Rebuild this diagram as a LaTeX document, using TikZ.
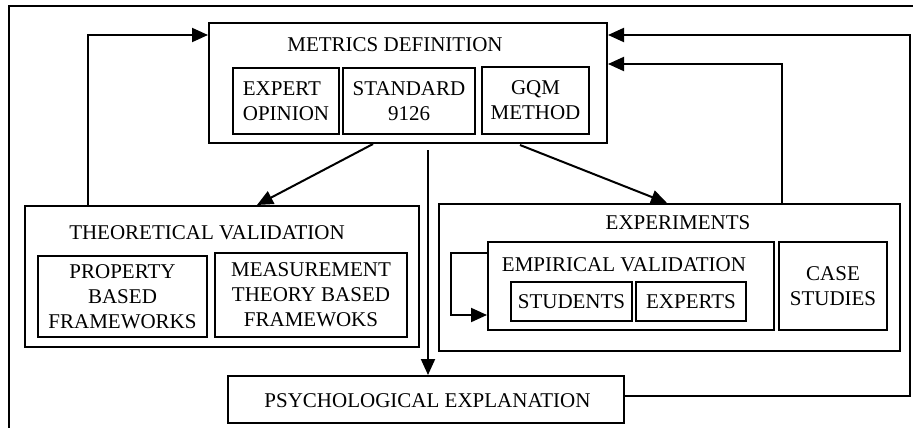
\documentclass[tikz,border=0pt]{standalone}
\usepackage{fontspec}
\setmainfont{Liberation Serif}
\usetikzlibrary{arrows.meta,calc}
\begin{document}
\begin{tikzpicture}[x=1pt,y=-1pt,
  every node/.style={font=\fontsize{21}{25}\selectfont},
  box/.style={draw,line width=2pt,rectangle,inner sep=0pt,align=center},
  title/.style={inner sep=0pt,anchor=center},
  arr/.style={line width=2pt,-{Triangle[length=16pt,width=14pt]}},
  ln/.style={line width=2pt}]
\useasboundingbox (0,0) rectangle (913,428);
% outer frame (cropped at right and bottom)
\coordinate (ofa) at (913,6);
\coordinate (ofb) at (9,6);
\coordinate (ofc) at (9,428);
\draw[ln] (ofa) -- (ofb) -- (ofc);
% metrics definition
\node[box,minimum width=398pt,minimum height=120pt] (md) at (408,83) {};
\node[title] (mdt) at (395,45) {METRICS DEFINITION};
\node[box,minimum width=106pt,minimum height=66pt,align=left] (eo) at (286,101) {EXPERT\\OPINION};
\node[box,minimum width=132pt,minimum height=66pt] (std) at (409,101) {STANDARD\\9126};
\node[box,minimum width=107pt,minimum height=67pt] (gqm) at (535.5,100.5) {GQM\\METHOD};
% theoretical validation
\node[box,minimum width=394pt,minimum height=141pt] (tv) at (222,276.5) {};
\node[title] (tvt) at (207,233) {THEORETICAL VALIDATION};
\node[box,minimum width=169pt,minimum height=81pt] (prop) at (122.5,296.5) {PROPERTY\\BASED\\FRAMEWORKS};
\node[box,minimum width=192pt,minimum height=84pt] (meas) at (311,295) {MEASUREMENT\\THEORY BASED\\FRAMEWOKS};
% experiments
\node[box,minimum width=461pt,minimum height=147pt] (exp) at (669.5,277.5) {};
\node[title] (expt) at (678,223) {EXPERIMENTS};
\node[box,minimum width=286pt,minimum height=88pt] (emp) at (631,286) {};
\node[title] (empt) at (624,265) {EMPIRICAL VALIDATION};
\node[box,minimum width=121pt,minimum height=39pt] (stu) at (571.5,301.5) {STUDENTS};
\node[box,minimum width=110pt,minimum height=39pt] (xps) at (691,301.5) {EXPERTS};
\node[box,minimum width=108pt,minimum height=88pt] (case) at (833,286) {CASE\\STUDIES};
% psychological explanation
\node[box,minimum width=396pt,minimum height=47pt] (psy) at (426,399.5) {};
\node[title] (psyt) at (427.5,401) {PSYCHOLOGICAL EXPLANATION};
% connectors
\draw[arr] (88,0 |- tv.north) |- (md.west |- 0,35);
\draw[arr] (psy.east |- 0,396) -| (910,35) -- (md.east |- 0,35);
\draw[arr] (782,0 |- exp.north) |- (md.east |- 0,64);
\draw[arr] (373,0 |- md.south) -- (257,0 |- tv.north);
\draw[arr] (520,145) -- (667,0 |- exp.north);
\draw[arr] (428,150) -- (428,0 |- psy.north);
\draw[arr] (emp.west |- 0,253) -- (451,253) |- (emp.west |- 0,315);
\end{tikzpicture}
\end{document}
